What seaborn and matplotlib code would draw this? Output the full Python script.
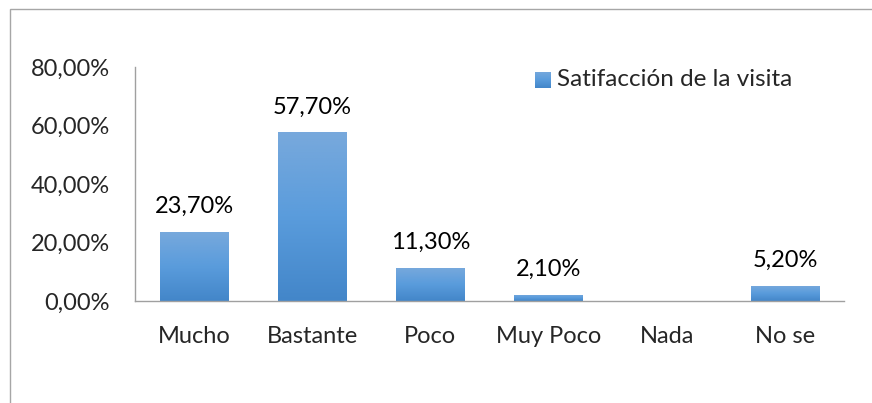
import numpy as np
import pandas as pd
import seaborn as sns
import matplotlib.pyplot as plt
from matplotlib.patches import Rectangle
from matplotlib.colors import LinearSegmentedColormap

categories = ["Mucho", "Bastante", "Poco", "Muy Poco", "Nada", "No se"]
values = [23.7, 57.7, 11.3, 2.1, 0.0, 5.2]
value_labels = ["23,70%", "57,70%", "11,30%", "2,10%", "", "5,20%"]
y_ticks = [0, 20, 40, 60, 80]
y_tick_labels = ["0,00%", "20,00%", "40,00%", "60,00%", "80,00%"]
series_name = "Satifacción de la visita"

sns.set_style("white")
plt.rcParams["font.family"] = ["Lato", "DejaVu Sans"]
FS = 17

W, H = 872, 403
fig = plt.figure(figsize=(W / 100, H / 100), dpi=100)

# chart frame
fig.add_artist(Rectangle((10 / W, -0.1), 1.2, (H - 9) / H + 0.1, transform=fig.transFigure,
                         fill=False, edgecolor="#a6a6a6", linewidth=1.0))

ax = fig.add_axes([135 / W, (H - 301) / H, (844 - 135) / W, (301 - 67) / H])
df = pd.DataFrame({"cat": categories, "val": values})
sns.barplot(data=df, x="cat", y="val", ax=ax, color="#5b9bd5", width=0.58, saturation=1)

ax.set_ylim(0, 80)
ax.set_xlim(-0.5, len(categories) - 0.5)
ax.set_yticks(y_ticks)
ax.set_yticklabels(y_tick_labels, fontsize=FS)
ax.set_xlabel("")
ax.set_ylabel("")
ax.tick_params(axis="x", labelsize=FS, pad=18, length=0)
ax.tick_params(axis="y", pad=18, length=0)
for s in ["top", "right"]:
    ax.spines[s].set_visible(False)
for s in ["left", "bottom"]:
    ax.spines[s].set_color("#a0a0a0")
    ax.spines[s].set_linewidth(1.0)

# vertical gradient fill for each bar
cmap = LinearSegmentedColormap.from_list("barg", ["#4386c9", "#5a9cdc", "#78a9dc"])
grad = np.linspace(0, 1, 256).reshape(-1, 1)
for p in list(ax.patches):
    x0, w, h = p.get_x(), p.get_width(), p.get_height()
    if h <= 0:
        p.set_visible(False)
        continue
    im = ax.imshow(grad, cmap=cmap, aspect="auto", origin="lower",
                   extent=[x0, x0 + w, 0, h], zorder=p.get_zorder() + 0.1)
    im.set_clip_path(p)
    p.set_edgecolor("none")

for i, (v, lab) in enumerate(zip(values, value_labels)):
    if lab:
        ax.text(i, v + 5.0, lab, ha="center", va="bottom", fontsize=FS, color="black")

ax.set_xlim(-0.5, len(categories) - 0.5)
ax.set_ylim(0, 80)

# legend: gradient swatch plus series name
lax = fig.add_axes([535 / W, (H - 88) / H, 16 / W, 16 / H])
lax.imshow(grad, cmap=cmap, aspect="auto", origin="lower", extent=[0, 1, 0, 1])
lax.set_axis_off()
fig.text(557 / W, (H - 80) / H, series_name, fontsize=17.5, va="center", ha="left")

fig.savefig("out.png", dpi=100)
